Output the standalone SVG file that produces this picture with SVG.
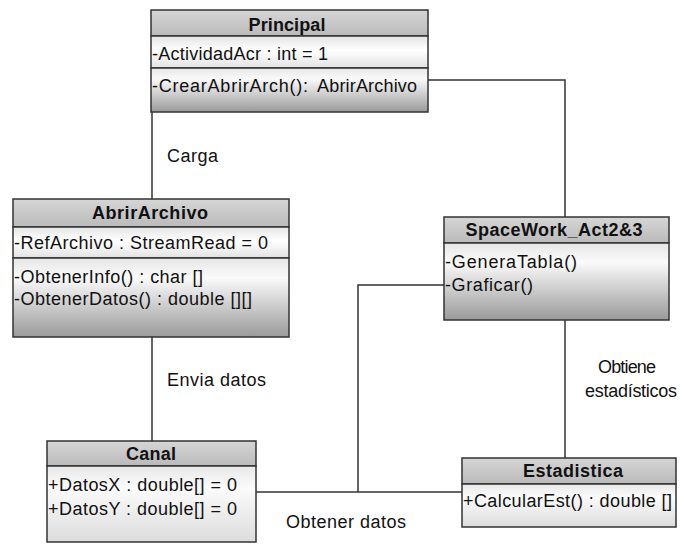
<svg xmlns="http://www.w3.org/2000/svg" width="681" height="544" viewBox="0 0 681 544">
  <defs>
    <linearGradient id="hdr" x1="0" y1="0" x2="0" y2="1">
      <stop offset="0" stop-color="#d6d6d6"/>
      <stop offset="1" stop-color="#bababa"/>
    </linearGradient>
    <linearGradient id="attr" x1="0" y1="0" x2="0" y2="1">
      <stop offset="0" stop-color="#e4e4e4"/>
      <stop offset="0.45" stop-color="#ffffff"/>
      <stop offset="1" stop-color="#e2e2e2"/>
    </linearGradient>
    <linearGradient id="ops" x1="0" y1="0" x2="0" y2="1">
      <stop offset="0" stop-color="#e6e6e6"/>
      <stop offset="0.25" stop-color="#fafafa"/>
      <stop offset="1" stop-color="#9a9a9a"/>
    </linearGradient>
    <linearGradient id="light" x1="0" y1="0" x2="0" y2="1">
      <stop offset="0" stop-color="#e8e8e8"/>
      <stop offset="0.3" stop-color="#fbfbfb"/>
      <stop offset="1" stop-color="#dcdcdc"/>
    </linearGradient>
  </defs>
  <style>
    .box { stroke: #333333; stroke-width: 1.5; }
    .title { font-family: "Liberation Sans", Arial, sans-serif; font-size: 18px; font-weight: bold; fill: #111111; text-anchor: middle; }
    .mem { font-family: "Liberation Sans", Arial, sans-serif; font-size: 18px; fill: #111111; }
    .lbl { font-family: "Liberation Sans", Arial, sans-serif; font-size: 18px; fill: #111111; }
    .conn { fill: none; stroke: #333333; stroke-width: 1.5; }
  </style>
  <rect width="681" height="544" fill="#ffffff"/>

  <!-- connectors -->
  <g id="connectors">
    <polyline class="conn" points="428,80 565,80 565,217"/>
    <line class="conn" x1="152" y1="112" x2="152" y2="199"/>
    <line class="conn" x1="152" y1="337" x2="152" y2="441"/>
    <line class="conn" x1="256" y1="492" x2="462" y2="492"/>
    <polyline class="conn" points="358,492 358,285 444,285"/>
    <line class="conn" x1="565" y1="320" x2="565" y2="458"/>
  </g>

  <!-- connector labels -->
  <g id="labels">
    <text class="lbl" x="167" y="162" textLength="51">Carga</text>
    <text class="lbl" x="167" y="386" textLength="99">Envia datos</text>
    <text class="lbl" x="598" y="373" textLength="58">Obtiene</text>
    <text class="lbl" x="585" y="397" textLength="92">estadísticos</text>
    <text class="lbl" x="286" y="528" textLength="120">Obtener datos</text>
  </g>

  <!-- Principal -->
  <g id="principal">
    <rect class="box" x="151" y="10" width="277" height="26" fill="url(#hdr)"/>
    <rect class="box" x="151" y="36" width="277" height="32" fill="url(#attr)"/>
    <rect class="box" x="151" y="68" width="277" height="44" fill="url(#ops)"/>
    <text class="title" x="287" y="31" textLength="77">Principal</text>
    <text class="mem" x="152" y="60" textLength="176">-ActividadAcr : int = 1</text>
    <text class="mem" x="152" y="92" textLength="156">-CrearAbrirArch():</text>
    <text class="mem" x="317" y="92" textLength="100">AbrirArchivo</text>
  </g>

  <!-- AbrirArchivo -->
  <g id="abrirarchivo">
    <rect class="box" x="13" y="199" width="276" height="28" fill="url(#hdr)"/>
    <rect class="box" x="13" y="227" width="276" height="31" fill="url(#attr)"/>
    <rect class="box" x="13" y="258" width="276" height="79" fill="url(#ops)"/>
    <text class="title" x="150" y="219" textLength="116">AbrirArchivo</text>
    <text class="mem" x="14" y="249" textLength="254">-RefArchivo : StreamRead = 0</text>
    <text class="mem" x="14" y="283" textLength="189">-ObtenerInfo() : char []</text>
    <text class="mem" x="14" y="305" textLength="238">-ObtenerDatos() : double [][]</text>
  </g>

  <!-- SpaceWork_Act2&3 -->
  <g id="spacework">
    <rect class="box" x="444" y="217" width="225" height="26" fill="url(#hdr)"/>
    <rect class="box" x="444" y="243" width="225" height="77" fill="url(#ops)"/>
    <text class="title" x="554" y="236" textLength="177">SpaceWork_Act2&amp;3</text>
    <text class="mem" x="445" y="268" textLength="132">-GeneraTabla()</text>
    <text class="mem" x="445" y="291" textLength="88">-Graficar()</text>
  </g>

  <!-- Canal -->
  <g id="canal">
    <rect class="box" x="47" y="441" width="209" height="25" fill="url(#hdr)"/>
    <rect class="box" x="47" y="466" width="209" height="76" fill="url(#light)"/>
    <text class="title" x="151" y="460" textLength="50">Canal</text>
    <text class="mem" x="48" y="491" textLength="189">+DatosX : double[] = 0</text>
    <text class="mem" x="48" y="515" textLength="189">+DatosY : double[] = 0</text>
  </g>

  <!-- Estadistica -->
  <g id="estadistica">
    <rect class="box" x="462" y="458" width="214" height="26" fill="url(#hdr)"/>
    <rect class="box" x="462" y="484" width="214" height="43" fill="url(#light)"/>
    <text class="title" x="573" y="477" textLength="100">Estadistica</text>
    <text class="mem" x="463" y="507" textLength="209">+CalcularEst() : double []</text>
  </g>
</svg>
